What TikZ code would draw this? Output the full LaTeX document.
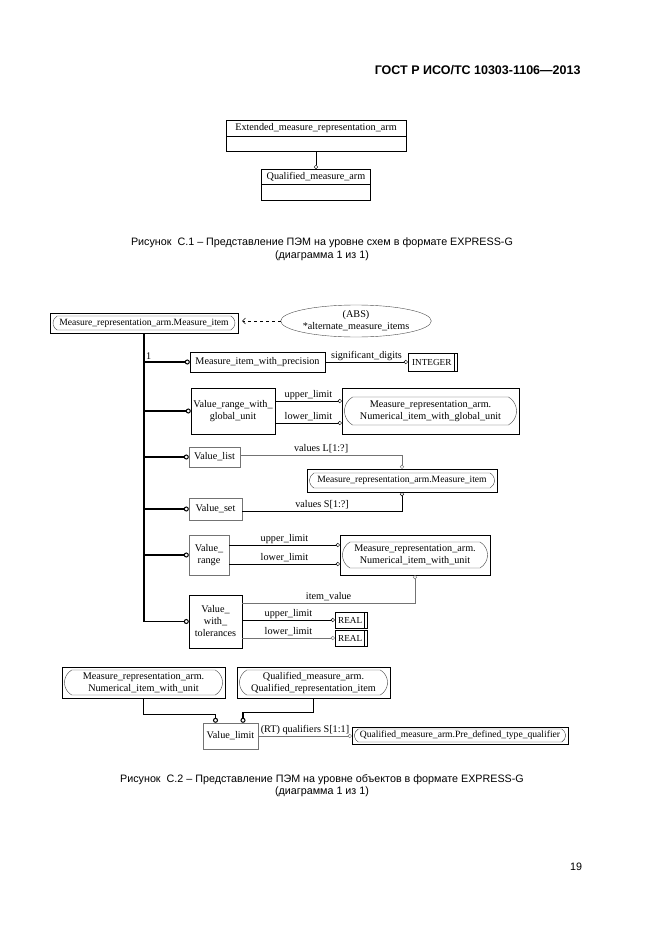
\documentclass[tikz,border=0pt]{standalone}
\usepackage{fontspec}
\setmainfont{Liberation Serif}
\newfontfamily\sansfont{Liberation Sans}
\usetikzlibrary{arrows.meta,shapes.geometric,shapes.misc,shapes.multipart}
\newcommand\diagfont{\fontsize{10.2}{12}\selectfont}

\begin{document}
\begin{tikzpicture}[x=1pt,y=-1pt,
	entity/.style={draw, inner sep=1pt, align=center, font=\diagfont},
	pale/.style={draw=black!55},
	outer/.style={draw, inner sep=0pt},
	refin/.style={rounded rectangle, rounded rectangle arc length=120, draw=black!75, inner sep=0.5pt, align=center, font=\diagfont},
	refline/.style={refin, font=\fontsize{9.6}{11}\selectfont},
	simple/.style={draw, inner sep=0.5pt, font=\fontsize{9.2}{11}\selectfont, path picture={\draw ([xshift=-3pt]path picture bounding box.north east) -- ([xshift=-3pt]path picture bounding box.south east);}},
	schema/.style={rectangle split, rectangle split parts=2, draw, font=\diagfont, inner ysep=3pt, rectangle split empty part height=9pt, rectangle split empty part depth=0pt},
	rel/.style={-{Circle[open,length=4pt]}},
	branch/.style={line width=1.3pt, -{Circle[open,length=5pt,line width=1pt]}},
	lab/.style={font=\diagfont, inner sep=1.5pt},
	capt/.style={font=\sansfont\fontsize{10.75}{12.5}\selectfont, align=center}]
	\useasboundingbox (0,0) rectangle (661,936);
	% header
	\node[anchor=east, font=\sansfont\bfseries\fontsize{12.5}{14}\selectfont] (gost) at (584,70) {ГОСТ Р ИСО/ТС 10303-1106—2013};

	% figure C.1
	\node[schema, anchor=north, minimum width=180] (ext) at (316,120) {Extended\_measure\_representation\_arm \nodepart{two}};
	\node[schema, anchor=north, minimum width=109] (qm) at (316,169) {Qualified\_measure\_arm \nodepart{two}};
	\draw[rel] (ext.south) -- (qm.north);
	\node[capt] (cap1) at (322,249) {Рисунок~~C.1 – Представление ПЭМ на уровне схем в формате EXPRESS-G\\(диаграмма 1 из 1)};

	% figure C.2
	\node[outer, minimum width=188, minimum height=20] (mitem) at (144,323) {};
	\node[refline, minimum width=183, minimum height=14] (mitem-in) at (mitem) {Measure\_representation\_arm.Measure\_item};
	\node[ellipse, draw=black!70, minimum width=142, minimum height=32, font=\diagfont, align=center, inner sep=0pt] (abs) at (356,321) {(ABS)\\*alternate\_measure\_items};
	\draw[dashed, -{Straight Barb[length=3pt,width=6pt]}, shorten >=4pt] (abs.west) -- (abs.west -| mitem.east);

	\node[entity, minimum width=135, minimum height=20] (mip) at (257.5,362) {Measure\_item\_with\_precision};
	\node[simple, minimum width=49, minimum height=18] (int) at (432.5,362) {INTEGER\,};
	\draw[rel] (mip.east) -- (int.west) node[lab, midway, above] {significant\_digits};

	\node[entity, minimum width=84, minimum height=46] (vrg) at (233,411) {Value\_range\_with\_\\global\_unit};
	\node[outer, minimum width=177, minimum height=46] (nigu) at (430.5,411) {};
	\node[refin, minimum width=173, minimum height=28] (nigu-in) at (nigu) {Measure\_representation\_arm.\\Numerical\_item\_with\_global\_unit};
	\coordinate (nigu-up) at ([yshift=10pt]nigu.west);
	\coordinate (nigu-lo) at ([yshift=-12pt]nigu.west);
	\draw[rel] (vrg.east |- nigu-up) -- (nigu-up) node[lab, midway, above] {upper\_limit};
	\draw[rel] (vrg.east |- nigu-lo) -- (nigu-lo) node[lab, midway, above] {lower\_limit};

	\node[entity, pale, minimum width=51, minimum height=20] (vlist) at (214.5,457) {Value\_list};
	\node[outer, minimum width=190, minimum height=23] (mitem2) at (402,480.5) {};
	\node[refline, minimum width=186, minimum height=15] (mitem2-in) at (mitem2) {Measure\_representation\_arm.Measure\_item};
	\draw[rel, pale] ([yshift=2pt]vlist.east) -| (mitem2.north) node[lab, pos=0.25, above] {values L[1:?]};
	\node[entity, pale, minimum width=53, minimum height=22] (vset) at (215.5,509) {Value\_set};
	\draw[rel] ([yshift=-2pt]vset.east) -| (mitem2.south) node[lab, pos=0.25, above] {values S[1:?]};

	\node[entity, pale, minimum width=40, minimum height=40] (vrange) at (209,555) {Value\_\\range};
	\node[outer, minimum width=150, minimum height=40] (niu) at (415,555) {};
	\node[refin, minimum width=146, minimum height=26] (niu-in) at (niu) {Measure\_representation\_arm.\\Numerical\_item\_with\_unit};
	\coordinate (niu-up) at ([yshift=10pt]niu.west);
	\coordinate (niu-lo) at ([yshift=-9pt]niu.west);
	\draw[rel] (vrange.east |- niu-up) -- (niu-up) node[lab, midway, above] {upper\_limit};
	\draw[rel] (vrange.east |- niu-lo) -- (niu-lo) node[lab, midway, above] {lower\_limit};

	\node[entity, minimum width=53, minimum height=53] (vtol) at (215.5,621.5) {Value\_\\with\_\\tolerances};
	\node[simple, minimum width=32, minimum height=16] (real1) at (351,620) {REAL\,};
	\node[simple, minimum width=32, minimum height=16] (real2) at (351,638) {REAL\,};
	\draw[rel] (vtol.east |- real1.west) -- (real1.west) node[lab, midway, above] {upper\_limit};
	\draw[rel, pale] (vtol.east |- real2.west) -- (real2.west) node[lab, midway, above] {lower\_limit};
	\draw[rel, pale] ([yshift=18.5pt]vtol.east) -| (niu.south) node[lab, pos=0.25, above] {item\_value};

	% trunk and its branches
	\draw[branch, line width=1.8pt] (mitem.south) |- (vtol.west);
	\draw[branch] (mitem.south |- mip.west) node[lab, above right] {1} -- (mip.west);
	\draw[branch] (mitem.south |- vrg.west) -- (vrg.west);
	\draw[branch] (mitem.south |- vlist.west) -- (vlist.west);
	\draw[branch] (mitem.south |- vset.west) -- (vset.west);
	\draw[branch] (mitem.south |- vrange.west) -- (vrange.west);

	% Value_limit
	\node[outer, minimum width=163, minimum height=31] (nia) at (143.5,682.5) {};
	\node[refin, minimum width=159, minimum height=25] (nia-in) at (nia) {Measure\_representation\_arm.\\Numerical\_item\_with\_unit};
	\node[outer, minimum width=153, minimum height=31] (qri) at (313.5,682.5) {};
	\node[refin, minimum width=149, minimum height=25] (qri-in) at (qri) {Qualified\_measure\_arm.\\Qualified\_representation\_item};
	\node[entity, pale, minimum width=55, minimum height=26] (vlim) at (230.5,736) {Value\_limit};
	\coordinate (vlim-a) at ([xshift=-15pt]vlim.north);
	\coordinate (vlim-b) at ([xshift=12.5pt]vlim.north);
	\draw[branch] (nia.south) |- ([yshift=8pt]vlim-a) -- (vlim-a);
	\draw[branch] (qri.south) |- ([yshift=10pt]vlim-b) -- (vlim-b);
	\node[outer, minimum width=216, minimum height=17] (qptq) at (460,735.5) {};
	\node[refline, minimum width=212, minimum height=13] (qptq-in) at (qptq) {Qualified\_measure\_arm.Pre\_defined\_type\_qualifier};
	\draw[rel, pale] (vlim.east) -- (vlim.east -| qptq.west) node[lab, midway, above] {(RT) qualifiers S[1:1]};

	\node[capt] (cap2) at (322,785.5) {Рисунок~~C.2 – Представление ПЭМ на уровне объектов в формате EXPRESS-G\\(диаграмма 1 из 1)};
	\node[capt] (page) at (576,867) {19};
\end{tikzpicture}
\end{document}
